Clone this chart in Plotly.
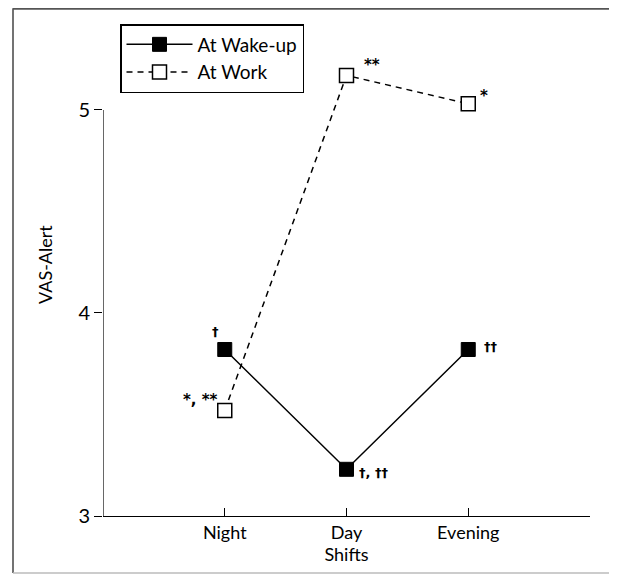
import plotly.graph_objects as go

shifts = ["Night", "Day", "Evening"]
x_pos = [0, 1, 2]
wakeup = [3.82, 3.23, 3.82]
work = [3.52, 5.17, 5.03]
wake_marks = ["†", "†, ††", "††"]
work_marks = ["*, **", "**", "*"]
y_ticks = [3, 4, 5]

FONT = "Lato"
MARKFONT = "DejaVu Sans"

fig = go.Figure()
fig.add_trace(go.Scatter(
    x=x_pos, y=wakeup, name="At Wake-up", mode="lines+markers",
    line=dict(color="black", width=1.5),
    marker=dict(symbol="square", size=14, color="black", line=dict(color="black", width=1)),
))
fig.add_trace(go.Scatter(
    x=x_pos, y=work, name="At Work", mode="lines+markers",
    line=dict(color="black", width=1.5, dash="6px,5px"),
    marker=dict(symbol="square", size=14, color="white", line=dict(color="black", width=1.5)),
))

# significance marks
offsets_wake = [(-9, 18), (27, -3), (23, 3)]
offsets_work = [(-24, 10), (25, 10), (16, 8)]
for i in range(3):
    fig.add_annotation(x=x_pos[i], y=wakeup[i], text="<b>" + wake_marks[i] + "</b>", showarrow=False,
                       xshift=offsets_wake[i][0], yshift=offsets_wake[i][1],
                       font=dict(family=MARKFONT, size=13, color="black"))
    fig.add_annotation(x=x_pos[i], y=work[i], text="<b>" + work_marks[i] + "</b>", showarrow=False,
                       xshift=offsets_work[i][0], yshift=offsets_work[i][1],
                       font=dict(family=MARKFONT, size=15, color="black"))

# y axis line from 3 to 5 only
fig.add_shape(type="line", xref="x", yref="y", x0=-1, x1=-1, y0=3, y1=5,
              line=dict(color="black", width=1.2))

# outer frame
fig.add_shape(type="line", xref="paper", yref="paper", x0=-0.1848, x1=-0.1848, y0=-0.122, y1=1.087,
              line=dict(color="#444", width=1.5))
fig.add_shape(type="line", xref="paper", yref="paper", x0=-0.1848, x1=1.07, y0=1.086, y1=1.086,
              line=dict(color="#555", width=2))
fig.add_shape(type="line", xref="paper", yref="paper", x0=-0.1848, x1=1.07, y0=-0.122, y1=-0.122,
              line=dict(color="#bbb", width=1.5))

# y axis title
fig.add_annotation(xref="paper", yref="paper", x=(45 - 103) / 487, y=(516 - 265) / 467,
                   xanchor="center", yanchor="middle",
                   text="VAS-Alert", textangle=-90, showarrow=False,
                   font=dict(family=FONT, size=18, color="black"))

fig.update_layout(
    width=609, height=566,
    margin=dict(l=95, r=27, t=41, b=58),
    paper_bgcolor="white", plot_bgcolor="white",
    font=dict(family=FONT, size=16, color="black"),
    showlegend=True,
    legend=dict(x=(120 - 103) / 487, y=(516 - 24) / 467, xanchor="left", yanchor="top",
                bordercolor="black", borderwidth=1.5, bgcolor="white",
                font=dict(family=FONT, size=19, color="black"),
                tracegroupgap=0, itemwidth=66),
    xaxis=dict(range=[-1, 3], tickvals=x_pos + [3], ticktext=shifts + [""],
               ticks="inside", ticklen=8, tickcolor="black", tickwidth=1.2,
               showline=True, linecolor="black", linewidth=1.2,
               showgrid=False, zeroline=False,
               title=dict(text="Shifts", font=dict(family=FONT, size=18), standoff=0),
               tickfont=dict(family=FONT, size=18)),
    yaxis=dict(range=[3, 5.3], tickvals=y_ticks, ticks="outside", ticklen=8,
               tickcolor="black", tickwidth=1.2, showline=False, showgrid=False,
               zeroline=False, tickfont=dict(family=FONT, size=20)),
)

fig.write_html("out.html")
